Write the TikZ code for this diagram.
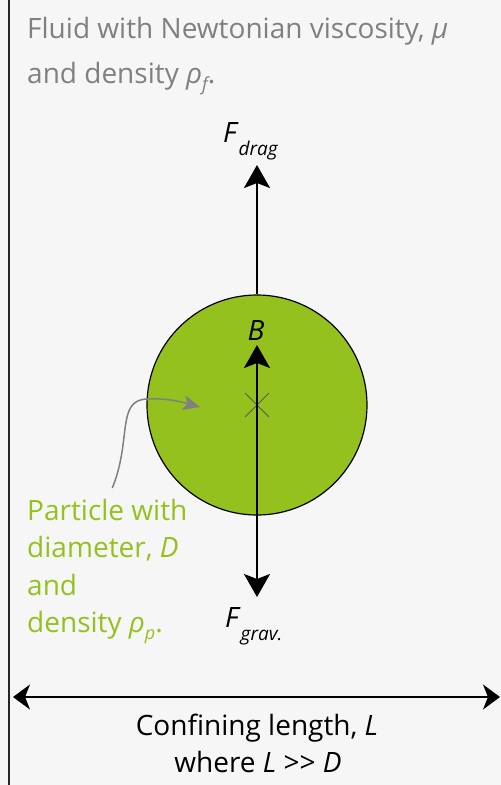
\documentclass[tikz,border=0pt]{standalone}
\usepackage{fontspec}
\setmainfont{Open Sans}
\usetikzlibrary{arrows.meta,positioning,shapes.misc}
\definecolor{fluidbg}{RGB}{246,246,246}
\definecolor{fluidgray}{RGB}{128,128,128}
\definecolor{particlegreen}{RGB}{149,193,31}
\newcommand{\forcelab}[1]{\textit{F}\raisebox{-13pt}{\fontsize{19}{19}\selectfont\itshape #1}}
\newcommand{\lowsub}[1]{\raisebox{-7pt}{\fontsize{18}{18}\selectfont\itshape #1}}
\tikzset{
  wall/.style={black!85, line width=1.8pt},
  particle/.style={circle, draw=black, line width=1.2pt, fill=particlegreen,
                   minimum size=220pt, inner sep=0pt},
  centremark/.style={cross out, draw=black!65, line width=0.8pt,
                     minimum size=23pt, inner sep=0pt},
  force/.style={-{Stealth[length=23pt,width=26pt,inset=5pt]}, line width=2.2pt},
  spanarrow/.style={{Stealth[length=17pt,width=25pt,inset=5pt]}-{Stealth[length=17pt,width=25pt,inset=5pt]},
                    line width=1.8pt},
  pointer/.style={-{Stealth[length=17pt,width=15pt,inset=4pt]}, draw=fluidgray,
                  line width=1.5pt},
  fluidlab/.style={font=\fontsize{28}{34}\selectfont, text=fluidgray, inner sep=0pt},
  greenlab/.style={font=\fontsize{28}{37.5}\selectfont, text=particlegreen,
                   align=left, inner sep=0pt},
  forcename/.style={font=\fontsize{28}{34}\selectfont, inner sep=0pt},
  lenlab/.style={font=\fontsize{28}{34}\selectfont, inner sep=0pt},
}

\begin{document}
\begin{tikzpicture}[x=1pt,y=-1pt]
  \fill[fluidbg] (0,0) rectangle (501,785);
  \useasboundingbox (0,0) rectangle (501,785);
  \draw[wall] (9,0) -- (9,785);

  \node[fluidlab, anchor=base west] (fluid1) at (27,38)
    {Fluid with Newtonian viscosity, \textit{μ}};
  \node[fluidlab, anchor=base west] (fluid2) at (27,83)
    {and density \textit{ρ}\lowsub{f}.};

  \node[particle] (p) at (257,405) {};
  \node[centremark] (mid) at (p.center) {};

  \coordinate (dragtip) at (257,165);
  \coordinate (btip) at (257,345);
  \coordinate (gtip) at (257,597);
  \draw[force] (p.north) -- (dragtip);
  \draw[force] (p.center) -- (btip);
  \draw[force] (p.center) -- (gtip);

  \node[forcename, anchor=base west] (drag) at (223,142) {\forcelab{drag}};
  \node[forcename, anchor=base] (buoy) at (256,340) {\textit{B}};
  \node[forcename, anchor=base west] (grav) at (225,627) {\forcelab{grav.}};

  \node[greenlab, anchor=north west] (plab) at (27,499)
    {Particle with\\diameter, \textit{D}\\and\\density \textit{ρ}\lowsub{p}.};
  \draw[pointer] ([xshift=5pt,yshift=11pt]plab.north)
    .. controls (132,440) and (116,400) .. (147,399)
    .. controls (170,398) and (185,403) .. ([xshift=-57pt,yshift=-2pt]p.center);

  \coordinate (leftwall) at (13,697);
  \coordinate (rightedge) at (500,697);
  \draw[spanarrow] (leftwall) -- (rightedge);
  \node[lenlab, anchor=base] (conf) at (257,735) {Confining length, \textit{L}};
  \node[lenlab, anchor=base] (where) at (258,772) {where \textit{L} >{}> \textit{D}};
\end{tikzpicture}
\end{document}
